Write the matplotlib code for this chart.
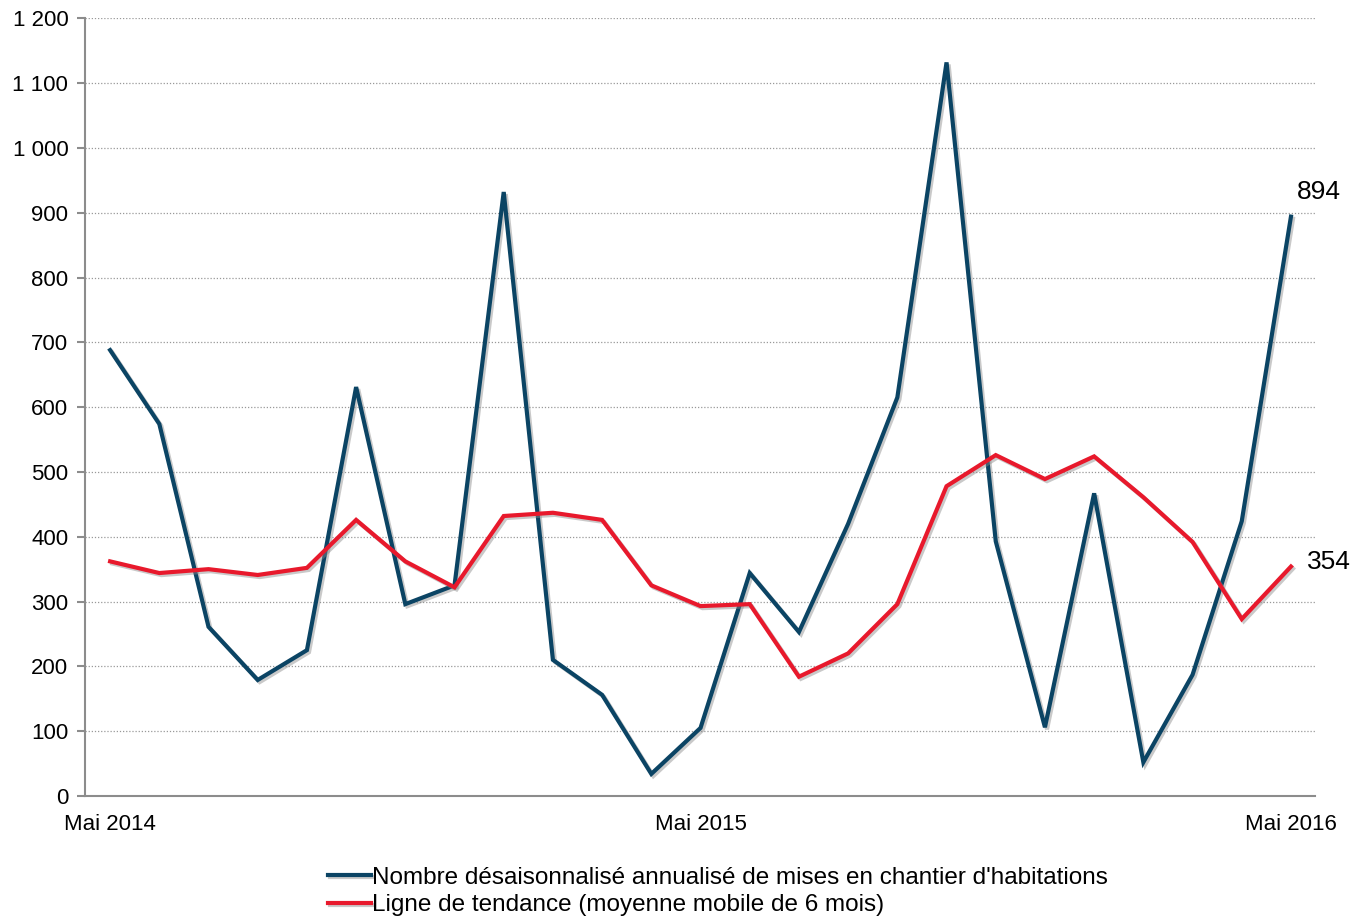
import numpy as np
import matplotlib.pyplot as plt
import matplotlib.patheffects as pe

plt.rcParams['font.family'] = ['Liberation Sans', 'DejaVu Sans']

# monthly data, May 2014 -> May 2016
months = ['Mai 2014', 'Juin 2014', 'Juil 2014', 'Août 2014', 'Sept 2014', 'Oct 2014',
          'Nov 2014', 'Déc 2014', 'Janv 2015', 'Févr 2015', 'Mars 2015', 'Avr 2015',
          'Mai 2015', 'Juin 2015', 'Juil 2015', 'Août 2015', 'Sept 2015', 'Oct 2015',
          'Nov 2015', 'Déc 2015', 'Janv 2016', 'Févr 2016', 'Mars 2016', 'Avr 2016',
          'Mai 2016']
starts = [688, 574, 261, 179, 225, 631, 296, 325, 932, 210, 156, 34, 105,
          344, 253, 420, 615, 1132, 393, 106, 467, 52, 187, 424, 894]
trend = [362, 344, 350, 341, 352, 426, 362, 322, 432, 437, 426, 325, 293,
         296, 184, 220, 296, 478, 526, 489, 524, 461, 392, 273, 354]
label_ticks = ['Mai 2014', 'Mai 2015', 'Mai 2016']

blue = '#0b4464'
red = '#e8192c'
grey = '#8c8c8c'

fig = plt.figure(figsize=(13.69, 9.17), dpi=100)
ax = fig.add_axes([0.0621, 0.132, 0.8985, 0.848])

x = np.arange(len(months))
shadow = [pe.SimpleLineShadow(offset=(1.5, -1.5), shadow_color='#888888', alpha=0.45), pe.Normal()]
l1, = ax.plot(x, starts, color=blue, lw=3, solid_joinstyle='miter', path_effects=shadow,
              label="Nombre désaisonnalisé annualisé de mises en chantier d'habitations")
l2, = ax.plot(x, trend, color=red, lw=3, solid_joinstyle='miter', path_effects=shadow,
              label='Ligne de tendance (moyenne mobile de 6 mois)')

ax.annotate(str(starts[-1]), (x[-1], starts[-1]), xytext=(20, 18), textcoords='offset points',
            ha='center', va='center', fontsize=19)
ax.annotate(str(trend[-1]), (x[-1], trend[-1]), xytext=(27, 3), textcoords='offset points',
            ha='center', va='center', fontsize=19)

ax.set_xlim(-0.51, 24.49)
ax.set_ylim(0, 1200)
ax.set_yticks(np.arange(0, 1201, 100))
ax.set_yticklabels([f'{v:,}'.replace(',', ' ') for v in range(0, 1201, 100)])
ax.set_xticks([months.index(m) for m in label_ticks])
ax.set_xticklabels(label_ticks)
ax.tick_params(axis='x', length=0, pad=13, labelsize=16)
ax.tick_params(axis='y', length=6, color=grey, width=1.5, pad=6, labelsize=16)
ax.grid(axis='y', linestyle=(0, (1, 1.5)), color='#999999', lw=0.9)
ax.set_axisbelow(True)
for s in ['top', 'right']:
    ax.spines[s].set_visible(False)
for s in ['left', 'bottom']:
    ax.spines[s].set_color(grey)
    ax.spines[s].set_linewidth(1.5)

fig.legend(handles=[l1, l2], loc='upper left', bbox_to_anchor=(0.2396, 0.055), frameon=False,
           fontsize=17.5, handlelength=1.75, handletextpad=0.08, labelspacing=0.24,
           borderaxespad=0, borderpad=0)

fig.savefig('out.png', dpi=100)
